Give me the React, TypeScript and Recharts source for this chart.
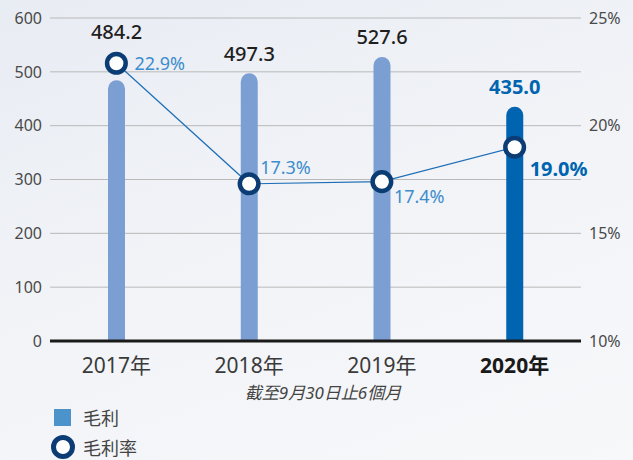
import { Bar, CartesianGrid, Cell, ComposedChart, LabelList, Line, XAxis, YAxis } from 'recharts'

// categories and values
const years = ['2017年', '2018年', '2019年', '2020年']
const grossProfit = [484.2, 497.3, 527.6, 435.0]
const grossMargin = [22.9, 17.3, 17.4, 19.0]
const profitTicks = [0, 100, 200, 300, 400, 500, 600]
const marginTicks = [10, 15, 20, 25]

const data = years.map((year, i) => ({ year, profit: grossProfit[i], margin: grossMargin[i] }))

// label placement relative to each marker (styling only)
const marginLabelShift = [
	{ dx: 18, dy: 0 },
	{ dx: 11, dy: -17 },
	{ dx: 12, dy: 14 },
	{ dx: 15, dy: 21 },
]

const FONT = "'Noto Sans', 'Noto Sans CJK TC', sans-serif"
const LIGHT_BAR = '#7b9fd2'
const DARK_BAR = '#0064b0'
const RING = '#0b3c73'
const last = years.length - 1

const YearTick = ({ x, y, payload, index }: any) => {
	const bold = index === last
	return (
		<text x={x} y={y} dy={24} textAnchor='middle' fontFamily={FONT} fontSize={21} fontWeight={bold ? 700 : 400} fill={bold ? '#1a1a1a' : '#3a3a3a'}>
			{payload.value}
		</text>
	)
}

const ProfitLabel = (props: any) => {
	const { x, y, width, height, value, index } = props
	const bottom = y + height
	const plotH = (height * 600) / value
	const markerY = bottom - ((grossMargin[index] - 10) / 15) * plotH
	const top = Math.min(y, markerY - 12) - 20
	const hl = index === last
	return (
		<text x={x + width / 2} y={top} textAnchor='middle' dominantBaseline='central' fontFamily={FONT} fontSize={20} fontWeight={hl ? 700 : 500} fill={hl ? DARK_BAR : '#1f1f1f'}>
			{value.toFixed(1)}
		</text>
	)
}

const MarginLabel = (props: any) => {
	const { x, y, value, index } = props
	const s = marginLabelShift[index]
	const hl = index === last
	return (
		<text x={x + s.dx} y={y + s.dy} dominantBaseline='central' fontFamily={FONT} fontSize={hl ? 20 : 18} fontWeight={hl ? 700 : 400} fill={hl ? DARK_BAR : '#3d8ccc'}>
			{value.toFixed(1)}%
		</text>
	)
}

const RingDot = (props: any) => {
	const { cx, cy, index } = props
	return <circle key={index} cx={cx} cy={cy} r={9.3} fill='#ffffff' stroke={RING} strokeWidth={4.5} />
}

export default function App() {
	return (
		<div
			style={{
				position: 'absolute',
				left: 0,
				top: 0,
				width: 633,
				height: 460,
				background: 'linear-gradient(160deg, #e8ecf3 0%, #f1f3f7 45%, #f7f8fa 100%)',
				fontFamily: FONT,
				overflow: 'hidden',
			}}
		>
			<ComposedChart width={633} height={460} data={data} margin={{ top: 18, right: 0, left: 0, bottom: 89 }}>
				<CartesianGrid yAxisId='left' horizontal={true} vertical={false} stroke='#b9b9b9' strokeWidth={1} />
				<XAxis dataKey='year' axisLine={{ stroke: '#1a1a1a', strokeWidth: 3 }} tickLine={false} height={30} tick={<YearTick />} interval={0} />
				<YAxis
					yAxisId='left'
					domain={[0, 600]}
					ticks={profitTicks}
					width={50}
					axisLine={false}
					tickLine={false}
					tick={{ fill: '#4a4a4a', fontSize: 16, fontFamily: FONT }}
				/>
				<YAxis
					yAxisId='right'
					orientation='right'
					domain={[10, 25]}
					ticks={marginTicks}
					width={52}
					axisLine={false}
					tickLine={false}
					tickFormatter={(v: number) => `${v}%`}
					tick={{ fill: '#4a4a4a', fontSize: 16, fontFamily: FONT, textAnchor: 'start' }}
				/>
				<Bar yAxisId='left' dataKey='profit' barSize={17} radius={[8.5, 8.5, 0, 0]} isAnimationActive={false}>
					{data.map((_, i) => (
						<Cell key={i} fill={i === last ? DARK_BAR : LIGHT_BAR} />
					))}
					<LabelList dataKey='profit' content={<ProfitLabel />} />
				</Bar>
				<Line yAxisId='right' dataKey='margin' stroke='#1f6fb6' strokeWidth={1.2} dot={<RingDot />} activeDot={false} isAnimationActive={false}>
					<LabelList dataKey='margin' content={<MarginLabel />} />
				</Line>
			</ComposedChart>
			<div style={{ position: 'absolute', left: 243, width: 160, top: 381, textAlign: 'center', whiteSpace: 'nowrap', fontSize: 17, lineHeight: '24px', fontStyle: 'italic', color: '#444' }}>
				截至9月30日止6個月
			</div>
			<div style={{ position: 'absolute', left: 54, top: 405, height: 24, display: 'flex', alignItems: 'center' }}>
				<div style={{ width: 17, height: 17, background: '#4d93cb' }} />
				<span style={{ marginLeft: 12, fontSize: 18, color: '#444' }}>毛利</span>
			</div>
			<div style={{ position: 'absolute', left: 51, top: 435, height: 24, display: 'flex', alignItems: 'center' }}>
				<div style={{ width: 14, height: 14, borderRadius: '50%', border: `5px solid ${RING}`, background: '#fff' }} />
				<span style={{ marginLeft: 8, fontSize: 18, color: '#444' }}>毛利率</span>
			</div>
		</div>
	)
}
